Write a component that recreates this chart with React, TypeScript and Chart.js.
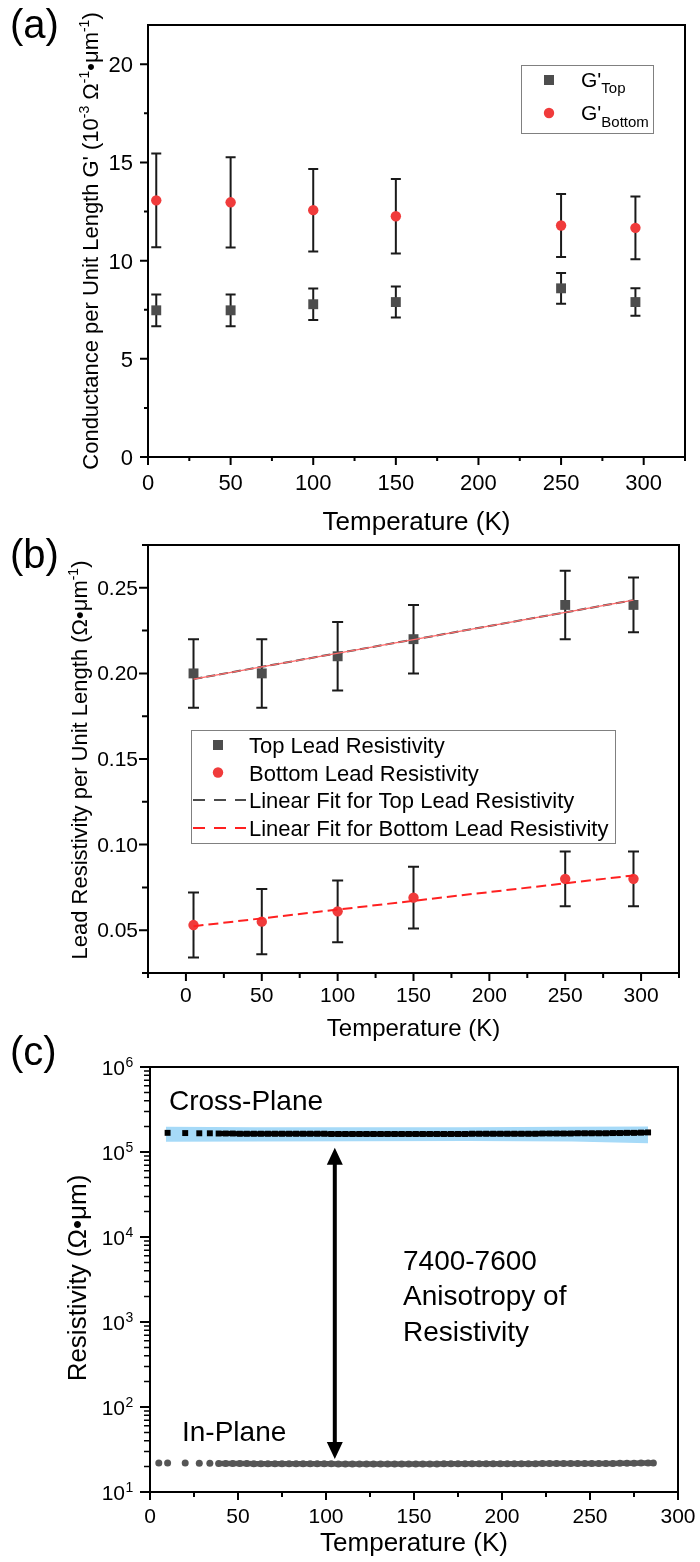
import React, { useEffect, useRef } from 'react';
import { Chart, registerables } from 'chart.js';

Chart.register(...registerables);

const FONT = '"Liberation Sans", Arial, Helvetica, sans-serif';
const GRAY = '#4d4d4d';
const RED = '#f03b3b';
const INK = '#000000';
const ERR = '#1a1a1a';

// ---------------- Panel (a) ----------------
const tempA = [5, 50, 100, 150, 250, 295];
const gTop = [7.47, 7.47, 7.78, 7.89, 8.59, 7.89];
const gTopErr = [0.81, 0.81, 0.8, 0.79, 0.78, 0.7];
const gBottom = [13.07, 12.97, 12.57, 12.26, 11.79, 11.67];
const gBottomErr = [2.39, 2.3, 2.1, 1.9, 1.6, 1.6];
const xTicksA = [0, 50, 100, 150, 200, 250, 300];
const xMinorA = [25, 75, 125, 175, 225, 275, 325];
const yTicksA = [0, 5, 10, 15, 20];
const yMinorA = [2.5, 7.5, 12.5, 17.5];
const legendA = ['Top', 'Bottom'];

// ---------------- Panel (b) ----------------
const tempB = [5, 50, 100, 150, 250, 295];
const rTop = [0.2, 0.2, 0.21, 0.22, 0.24, 0.24];
const rTopErr = [0.02, 0.02, 0.02, 0.02, 0.02, 0.016];
const rBottom = [0.053, 0.055, 0.061, 0.069, 0.08, 0.08];
const rBottomErr = [0.019, 0.019, 0.018, 0.018, 0.016, 0.016];
const fitX = [5, 295];
const fitTop = [0.1967, 0.2428];
const fitBottom = [0.0523, 0.082];
const xTicksB = [0, 50, 100, 150, 200, 250, 300];
const xMinorB = [-25, 25, 75, 125, 175, 225, 275, 325];
const yTicksB = [0.05, 0.1, 0.15, 0.2, 0.25];
const yMinorB = [0.025, 0.075, 0.125, 0.175, 0.225, 0.275];
const legendB = [
  'Top Lead Resistivity',
  'Bottom Lead Resistivity',
  'Linear Fit for Top Lead Resistivity',
  'Linear Fit for Bottom Lead Resistivity',
];

// ---------------- Panel (c) ----------------
const crossT = [
  10, 20, 28, 34, 39, 43, 47, 51, 55, 59,
  63, 67, 71, 75, 79, 83, 87, 91, 95, 99,
  103, 107, 111, 115, 119, 123, 127, 131, 135, 139,
  143, 147, 151, 155, 159, 163, 167, 171, 175, 179,
  183, 187, 191, 195, 199, 203, 207, 211, 215, 219,
  223, 227, 231, 235, 239, 243, 247, 251, 255, 259,
  263, 267, 271, 275, 279, 283,
];
const crossRho = [
  168000, 167000, 166000, 166000, 165000, 165000, 165000, 164000, 164000, 164000,
  164000, 164000, 164000, 164000, 164000, 164000, 164000, 164000, 164000, 164000,
  163000, 163000, 163000, 163000, 163000, 163000, 163000, 163000, 163000, 163000,
  163000, 163000, 163000, 163000, 163000, 163000, 163000, 163000, 163000, 163000,
  164000, 164000, 164000, 164000, 164000, 164000, 164000, 164000, 164000, 164000,
  165000, 165000, 165000, 165000, 165000, 166000, 166000, 166000, 166000, 166000,
  167000, 167000, 168000, 168000, 169000, 170000,
];
const bandT = [9, 60, 120, 180, 240, 283];
const bandHigh = [198000, 196000, 195000, 196000, 198000, 200000];
const bandLow = [132000, 133000, 134000, 135000, 133000, 127000];
const inT = [
  5, 10, 20, 28, 34, 39, 43, 47, 51, 55,
  59, 63, 67, 71, 75, 79, 83, 87, 91, 95,
  99, 103, 107, 111, 115, 119, 123, 127, 131, 135,
  139, 143, 147, 151, 155, 159, 163, 167, 171, 175,
  179, 183, 187, 191, 195, 199, 203, 207, 211, 215,
  219, 223, 227, 231, 235, 239, 243, 247, 251, 255,
  259, 263, 267, 271, 275, 279, 283, 286,
];
const inRho = [
  22.0, 22.0, 21.9, 21.8, 21.8, 21.7, 21.7, 21.6, 21.6, 21.6,
  21.5, 21.5, 21.5, 21.5, 21.5, 21.5, 21.5, 21.5, 21.5, 21.5,
  21.5, 21.5, 21.4, 21.4, 21.4, 21.4, 21.4, 21.4, 21.4, 21.4,
  21.4, 21.4, 21.4, 21.4, 21.4, 21.4, 21.4, 21.5, 21.5, 21.5,
  21.5, 21.5, 21.5, 21.5, 21.5, 21.5, 21.5, 21.5, 21.5, 21.5,
  21.5, 21.6, 21.6, 21.6, 21.6, 21.6, 21.6, 21.6, 21.7, 21.7,
  21.7, 21.7, 21.8, 21.8, 21.8, 21.9, 21.9, 22.0,
];
const arrowT = 105;
const arrowTop = 112000;
const arrowBottom = 24.5;
const xTicksC = [0, 50, 100, 150, 200, 250, 300];
const xMinorC = [25, 75, 125, 175, 225, 275];
const yTicksC = [10, 100, 1000, 10000, 100000, 1000000];
const yExpC = ['1', '2', '3', '4', '5', '6'];
const labelsC = ['Cross-Plane', 'In-Plane', '7400-7600', 'Anisotropy of', 'Resistivity'];

// ---------------- helpers ----------------
const pts = (xs: number[], ys: number[]) => xs.map((x, i) => ({ x, y: ys[i] }));

type Seg = [string, number, number];

function drawRich(ctx: CanvasRenderingContext2D, segs: Seg[], x: number, y: number, align: 'left' | 'center', rotate = false) {
  ctx.save();
  ctx.translate(x, y);
  if (rotate) ctx.rotate(-Math.PI / 2);
  ctx.fillStyle = INK;
  ctx.textBaseline = 'alphabetic';
  ctx.textAlign = 'left';
  let total = 0;
  const widths = segs.map(([t, s]) => {
    ctx.font = `${s}px ${FONT}`;
    const w = ctx.measureText(t).width;
    total += w;
    return w;
  });
  let cx = align === 'center' ? -total / 2 : 0;
  segs.forEach(([t, s, dy], i) => {
    ctx.font = `${s}px ${FONT}`;
    ctx.fillText(t, cx, dy);
    cx += widths[i];
  });
  ctx.restore();
}

function frame(ctx: CanvasRenderingContext2D, a: any) {
  ctx.save();
  ctx.strokeStyle = INK;
  ctx.lineWidth = 2;
  ctx.strokeRect(a.left, a.top, a.right - a.left, a.bottom - a.top);
  ctx.restore();
}

function xTickMarks(ctx: CanvasRenderingContext2D, s: any, vals: number[], y0: number, len: number) {
  ctx.save();
  ctx.strokeStyle = INK;
  ctx.lineWidth = 2;
  ctx.beginPath();
  vals.forEach((v) => {
    const p = s.getPixelForValue(v);
    ctx.moveTo(p, y0);
    ctx.lineTo(p, y0 + len);
  });
  ctx.stroke();
  ctx.restore();
}

function yTickMarks(ctx: CanvasRenderingContext2D, s: any, vals: number[], x0: number, len: number, w = 2) {
  ctx.save();
  ctx.strokeStyle = INK;
  ctx.lineWidth = w;
  ctx.beginPath();
  vals.forEach((v) => {
    const p = s.getPixelForValue(v);
    ctx.moveTo(x0, p);
    ctx.lineTo(x0 - len, p);
  });
  ctx.stroke();
  ctx.restore();
}

function xLabels(ctx: CanvasRenderingContext2D, s: any, vals: number[], baseline: number, size: number) {
  ctx.save();
  ctx.fillStyle = INK;
  ctx.font = `${size}px ${FONT}`;
  ctx.textAlign = 'center';
  ctx.textBaseline = 'alphabetic';
  vals.forEach((v) => ctx.fillText(String(v), s.getPixelForValue(v), baseline));
  ctx.restore();
}

function yLabels(ctx: CanvasRenderingContext2D, s: any, vals: number[], right: number, size: number, dy: number, fmt: (v: number) => string) {
  ctx.save();
  ctx.fillStyle = INK;
  ctx.font = `${size}px ${FONT}`;
  ctx.textAlign = 'right';
  ctx.textBaseline = 'alphabetic';
  vals.forEach((v) => ctx.fillText(fmt(v), right, s.getPixelForValue(v) + dy));
  ctx.restore();
}

function errorBars(ctx: CanvasRenderingContext2D, xs: any, ys: any, xv: number[], yv: number[], ev: number[], cap: number) {
  ctx.save();
  ctx.strokeStyle = ERR;
  ctx.lineWidth = 2;
  ctx.beginPath();
  xv.forEach((x, i) => {
    const px = xs.getPixelForValue(x);
    const y1 = ys.getPixelForValue(yv[i] + ev[i]);
    const y2 = ys.getPixelForValue(yv[i] - ev[i]);
    ctx.moveTo(px, y1);
    ctx.lineTo(px, y2);
    ctx.moveTo(px - cap, y1);
    ctx.lineTo(px + cap, y1);
    ctx.moveTo(px - cap, y2);
    ctx.lineTo(px + cap, y2);
  });
  ctx.stroke();
  ctx.restore();
}

function baseOptions(T0: number, H: number, L: number, R: number, Tp: number, B: number, x: any, y: any) {
  return {
    responsive: false,
    animation: false,
    devicePixelRatio: 1,
    events: [],
    layout: { padding: { left: 0, right: 700 - R, top: Tp - T0, bottom: 0 } },
    plugins: { legend: { display: false }, tooltip: { enabled: false } },
    scales: {
      x: {
        ...x,
        ticks: { display: false },
        grid: { display: false },
        border: { display: false },
        afterFit: (s: any) => {
          s.height = T0 + H - B;
          s.paddingLeft = 0;
          s.paddingRight = 0;
        },
      },
      y: {
        ...y,
        ticks: { display: false },
        grid: { display: false },
        border: { display: false },
        afterFit: (s: any) => {
          s.width = L;
          s.paddingTop = 0;
          s.paddingBottom = 0;
        },
      },
    },
  };
}

// ---------------- panel configs ----------------
const A = { T0: 0, H: 545 };
const B = { T0: 525, H: 520 };
const C = { T0: 1035, H: 527 };

function configA(): any {
  const py = (v: number) => v - A.T0;
  return {
    type: 'scatter',
    data: {
      datasets: [
        { data: pts(tempA, gTop), pointStyle: 'rect', pointRadius: 7, backgroundColor: GRAY, borderWidth: 0 },
        { data: pts(tempA, gBottom), pointStyle: 'circle', pointRadius: 5.2, backgroundColor: RED, borderWidth: 0 },
      ],
    },
    options: baseOptions(A.T0, A.H, 148, 685, 25, 457, { type: 'linear', min: 0, max: 325 }, { type: 'linear', min: 0, max: 22 }),
    plugins: [
      {
        id: 'panelA',
        beforeDatasetsDraw(chart: any) {
          const { ctx, scales } = chart;
          errorBars(ctx, scales.x, scales.y, tempA, gTop, gTopErr, 5);
          errorBars(ctx, scales.x, scales.y, tempA, gBottom, gBottomErr, 5);
        },
        afterDraw(chart: any) {
          const { ctx, chartArea: a, scales } = chart;
          frame(ctx, a);
          xTickMarks(ctx, scales.x, xTicksA, a.bottom, 8);
          xTickMarks(ctx, scales.x, xMinorA, a.bottom, 4);
          yTickMarks(ctx, scales.y, yTicksA, a.left, 8);
          yTickMarks(ctx, scales.y, yMinorA, a.left, 4);
          xLabels(ctx, scales.x, xTicksA, py(490), 22);
          yLabels(ctx, scales.y, yTicksA, 133, 22, 8, (v) => String(v));
          drawRich(ctx, [['Temperature (K)', 26, 0]], (a.left + a.right) / 2, py(530), 'center');
          drawRich(
            ctx,
            [
              ["Conductance per Unit Length G' (10", 22, 0],
              ['-3', 14, -9],
              [' \u03A9', 22, 0],
              ['-1', 14, -9],
              ['\u2022\u03BCm', 22, 0],
              ['-1', 14, -9],
              [')', 22, 0],
            ],
            98,
            py(241),
            'center',
            true
          );
          drawRich(ctx, [['(a)', 40, 0]], 10, py(38), 'left');
          // legend
          ctx.save();
          ctx.strokeStyle = '#808080';
          ctx.lineWidth = 1;
          ctx.strokeRect(521.5, py(65.5), 132, 68);
          ctx.fillStyle = GRAY;
          ctx.fillRect(544, py(75), 10, 10);
          ctx.fillStyle = RED;
          ctx.beginPath();
          ctx.arc(549, py(113), 5.2, 0, Math.PI * 2);
          ctx.fill();
          ctx.restore();
          drawRich(ctx, [["G'", 21, 0], [legendA[0], 15, 6]], 581, py(87), 'left');
          drawRich(ctx, [["G'", 21, 0], [legendA[1], 15, 7]], 581, py(120), 'left');
        },
      },
    ],
  };
}

function configB(): any {
  const py = (v: number) => v - B.T0;
  return {
    type: 'scatter',
    data: {
      datasets: [
        { data: pts(fitX, fitTop), showLine: true, pointRadius: 0, borderColor: '#ff6a6a', borderWidth: 1.2, order: 0 },
        { data: pts(fitX, fitTop), showLine: true, pointRadius: 0, borderColor: '#4a4a4a', borderWidth: 2, borderDash: [9, 4], order: 1 },
        { data: pts(fitX, fitBottom), showLine: true, pointRadius: 0, borderColor: '#ff2020', borderWidth: 2, borderDash: [10, 5], order: 1 },
        { data: pts(tempB, rTop), pointStyle: 'rect', pointRadius: 7, backgroundColor: GRAY, borderWidth: 0, order: 2 },
        { data: pts(tempB, rBottom), pointStyle: 'circle', pointRadius: 5.2, backgroundColor: RED, borderWidth: 0, order: 2 },
      ],
    },
    options: baseOptions(B.T0, B.H, 148, 679, 545, 973, { type: 'linear', min: -25, max: 325 }, { type: 'linear', min: 0.025, max: 0.275 }),
    plugins: [
      {
        id: 'panelB',
        beforeDatasetsDraw(chart: any) {
          const { ctx, scales } = chart;
          errorBars(ctx, scales.x, scales.y, tempB, rTop, rTopErr, 5.5);
          errorBars(ctx, scales.x, scales.y, tempB, rBottom, rBottomErr, 5.5);
        },
        afterDraw(chart: any) {
          const { ctx, chartArea: a, scales } = chart;
          frame(ctx, a);
          xTickMarks(ctx, scales.x, xTicksB, a.bottom, 8);
          xTickMarks(ctx, scales.x, xMinorB, a.bottom, 5);
          yTickMarks(ctx, scales.y, yTicksB, a.left, 9);
          yTickMarks(ctx, scales.y, yMinorB, a.left, 6);
          xLabels(ctx, scales.x, xTicksB, py(1002), 21);
          yLabels(ctx, scales.y, yTicksB, 138, 21, 7, (v) => v.toFixed(2));
          drawRich(ctx, [['Temperature (K)', 24, 0]], (a.left + a.right) / 2, py(1036), 'center');
          drawRich(
            ctx,
            [
              ['Lead Resistivity per Unit Length (\u03A9\u2022\u03BCm', 22, 0],
              ['-1', 14, -9],
              [')', 22, 0],
            ],
            87,
            py(760),
            'center',
            true
          );
          drawRich(ctx, [['(b)', 40, 0]], 10, py(568), 'left');
          // legend
          ctx.save();
          ctx.fillStyle = '#ffffff';
          ctx.fillRect(191.5, py(730.5), 424, 113);
          ctx.strokeStyle = '#808080';
          ctx.lineWidth = 1;
          ctx.strokeRect(191.5, py(730.5), 424, 113);
          ctx.fillStyle = GRAY;
          ctx.fillRect(213, py(740), 10, 10);
          ctx.fillStyle = RED;
          ctx.beginPath();
          ctx.arc(218, py(772.5), 5.2, 0, Math.PI * 2);
          ctx.fill();
          ctx.lineWidth = 2;
          ctx.setLineDash([12, 9]);
          ctx.strokeStyle = '#4a4a4a';
          ctx.beginPath();
          ctx.moveTo(193, py(800));
          ctx.lineTo(246, py(800));
          ctx.stroke();
          ctx.strokeStyle = '#ff2020';
          ctx.beginPath();
          ctx.moveTo(193, py(828));
          ctx.lineTo(246, py(828));
          ctx.stroke();
          ctx.restore();
          const bl = [753, 780.5, 808, 836];
          legendB.forEach((t, i) => drawRich(ctx, [[t, 22, 0]], 249, py(bl[i]), 'left'));
        },
      },
    ],
  };
}

function configC(): any {
  const py = (v: number) => v - C.T0;
  const gapColor = (c: string) => (ctx: any) => (ctx.p1.parsed.x - ctx.p0.parsed.x > 4.5 ? 'rgba(0,0,0,0)' : c);
  const yMinorC: number[] = [];
  yTicksC.slice(0, -1).forEach((d) => {
    for (let m = 2; m <= 9; m++) yMinorC.push(m * d);
  });
  return {
    type: 'scatter',
    data: {
      datasets: [
        { data: pts(bandT, bandHigh), showLine: true, pointRadius: 0, borderWidth: 0, borderColor: 'rgba(0,0,0,0)', fill: '+1', backgroundColor: 'rgb(166,218,248)', order: 10 },
        { data: pts(bandT, bandLow), showLine: true, pointRadius: 0, borderWidth: 0, borderColor: 'rgba(0,0,0,0)', fill: false, order: 11 },
        {
          data: pts(crossT, crossRho),
          showLine: true,
          borderWidth: 5,
          borderColor: '#000',
          segment: { borderColor: gapColor('#000') },
          pointStyle: 'rect',
          pointRadius: 4.2,
          backgroundColor: '#000',
          pointBorderWidth: 0,
          order: 1,
        },
        {
          data: pts(inT, inRho),
          showLine: true,
          borderWidth: 5.5,
          borderColor: '#555',
          segment: { borderColor: gapColor('#555') },
          pointStyle: 'circle',
          pointRadius: 3.5,
          backgroundColor: '#555',
          pointBorderWidth: 0,
          order: 1,
        },
      ],
    },
    options: baseOptions(C.T0, C.H, 150, 678, 1067, 1492, { type: 'linear', min: 0, max: 300 }, { type: 'logarithmic', min: 10, max: 1000000 }),
    plugins: [
      {
        id: 'panelC',
        afterDraw(chart: any) {
          const { ctx, chartArea: a, scales } = chart;
          // arrow
          const ax = scales.x.getPixelForValue(arrowT);
          const ay1 = scales.y.getPixelForValue(arrowTop);
          const ay2 = scales.y.getPixelForValue(arrowBottom);
          ctx.save();
          ctx.strokeStyle = '#000';
          ctx.fillStyle = '#000';
          ctx.lineWidth = 4;
          ctx.beginPath();
          ctx.moveTo(ax, ay1 + 12);
          ctx.lineTo(ax, ay2 - 12);
          ctx.stroke();
          ctx.beginPath();
          ctx.moveTo(ax, ay1);
          ctx.lineTo(ax - 8, ay1 + 17);
          ctx.lineTo(ax + 8, ay1 + 17);
          ctx.closePath();
          ctx.fill();
          ctx.beginPath();
          ctx.moveTo(ax, ay2);
          ctx.lineTo(ax - 8, ay2 - 17);
          ctx.lineTo(ax + 8, ay2 - 17);
          ctx.closePath();
          ctx.fill();
          ctx.restore();

          frame(ctx, a);
          xTickMarks(ctx, scales.x, xTicksC, a.bottom, 8);
          xTickMarks(ctx, scales.x, xMinorC, a.bottom, 5);
          yTickMarks(ctx, scales.y, yTicksC, a.left, 10);
          yTickMarks(ctx, scales.y, yMinorC, a.left, 6, 1.5);
          xLabels(ctx, scales.x, xTicksC, py(1523), 21);
          yTicksC.forEach((v, i) => {
            const p = scales.y.getPixelForValue(v);
            ctx.save();
            ctx.fillStyle = INK;
            ctx.textBaseline = 'alphabetic';
            ctx.textAlign = 'right';
            ctx.font = `21px ${FONT}`;
            ctx.fillText('10', 125, p + 8);
            ctx.textAlign = 'left';
            ctx.font = `14px ${FONT}`;
            ctx.fillText(yExpC[i], 125.5, p);
            ctx.restore();
          });
          drawRich(ctx, [['Temperature (K)', 26, 0]], (a.left + a.right) / 2, py(1551), 'center');
          drawRich(ctx, [['Resistivity (\u03A9\u2022\u03BCm)', 26, 0]], 86, py(1278), 'center', true);
          drawRich(ctx, [['(c)', 40, 0]], 10, py(1065), 'left');
          drawRich(ctx, [[labelsC[0], 28, 0]], 169, py(1110), 'left');
          drawRich(ctx, [[labelsC[1], 28, 0]], 182, py(1441), 'left');
          drawRich(ctx, [[labelsC[2], 28, 0]], 403, py(1270), 'left');
          drawRich(ctx, [[labelsC[3], 28, 0]], 403, py(1305), 'left');
          drawRich(ctx, [[labelsC[4], 28, 0]], 403, py(1341), 'left');
        },
      },
    ],
  };
}

function Panel({ top, height, build }: { top: number; height: number; build: () => any }) {
  const ref = useRef<HTMLCanvasElement>(null);
  useEffect(() => {
    const chart = new Chart(ref.current as HTMLCanvasElement, build());
    return () => chart.destroy();
  }, []);
  return (
    <canvas
      ref={ref}
      width={700}
      height={height}
      style={{ position: 'absolute', left: 0, top, width: 700, height, display: 'block' }}
    />
  );
}

export default function App() {
  return (
    <div style={{ position: 'absolute', left: 0, top: 0, width: 700, height: 1562, background: '#ffffff', overflow: 'hidden' }}>
      <Panel top={A.T0} height={A.H} build={configA} />
      <Panel top={B.T0} height={B.H} build={configB} />
      <Panel top={C.T0} height={C.H} build={configC} />
    </div>
  );
}
